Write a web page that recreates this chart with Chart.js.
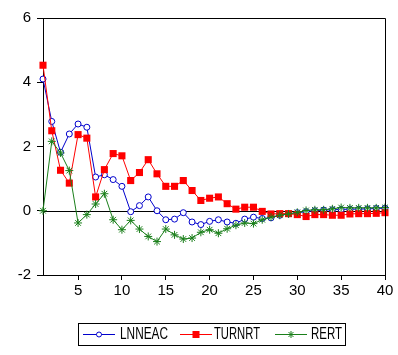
<!DOCTYPE html>
<html><head><meta charset="utf-8">
<script src="https://cdn.jsdelivr.net/npm/chart.js@4"></script>
<style>html,body{margin:0;padding:0;background:#fff}#c{display:block}</style>
</head><body>
<canvas id="c" width="398" height="355"></canvas>
<script>
const lags = [1,2,3,4,5,6,7,8,9,10,11,12,13,14,15,16,17,18,19,20,21,22,23,24,25,26,27,28,29,30,31,32,33,34,35,36,37,38,39,40];
const lnneac = [4.1,2.78,1.82,2.39,2.7,2.6,1.05,1.12,0.97,0.76,-0.03,0.16,0.43,0.0,-0.28,-0.26,-0.06,-0.35,-0.43,-0.33,-0.28,-0.35,-0.39,-0.26,-0.2,-0.24,-0.22,-0.14,-0.1,-0.06,-0.03,0.0,0.02,0.03,0.04,0.05,0.05,0.06,0.07,0.08];
const turnrt = [4.53,2.49,1.26,0.86,2.37,2.26,0.43,1.28,1.78,1.71,0.94,1.19,1.59,1.15,0.76,0.76,0.94,0.63,0.32,0.39,0.43,0.22,0.05,0.11,0.11,-0.02,-0.1,-0.09,-0.09,-0.12,-0.18,-0.12,-0.12,-0.14,-0.14,-0.1,-0.09,-0.09,-0.08,-0.06];
const rert = [0,2.16,1.8,1.25,-0.38,-0.12,0.21,0.53,-0.28,-0.59,-0.3,-0.57,-0.8,-0.96,-0.57,-0.75,-0.88,-0.85,-0.67,-0.59,-0.7,-0.56,-0.45,-0.38,-0.4,-0.28,-0.2,-0.14,-0.1,-0.05,0.01,0.03,0.03,0.06,0.1,0.09,0.09,0.09,0.09,0.1];
const xTicks = [5,10,15,20,25,30,35,40];
const seriesNames = ['LNNEAC','TURNRT','RERT'];

const BLUE = '#0000cc', RED = '#ff0000', GREEN = '#1a7f1a';
const FONT = '"Liberation Sans", Arial, sans-serif';
const toXY = arr => arr.map((v,i)=>({x:lags[i], y:v}));

const framePlugin = {
  id:'frame',
  beforeDatasetsDraw(chart){
    const {ctx, chartArea:a, scales} = chart;
    const y0 = Math.round(scales.y.getPixelForValue(0)) + 0.5;
    ctx.save();
    ctx.strokeStyle = '#000'; ctx.lineWidth = 1;
    ctx.beginPath(); ctx.moveTo(a.left, y0); ctx.lineTo(a.right, y0); ctx.stroke();
    ctx.restore();
  },
  afterDraw(chart){
    const {ctx, chartArea:a} = chart;
    ctx.save();
    ctx.strokeStyle = '#000'; ctx.lineWidth = 1;
    const t = Math.round(a.top)+0.5, r = Math.round(a.right)+0.5;
    ctx.beginPath(); ctx.moveTo(a.left, t); ctx.lineTo(r, t); ctx.lineTo(r, a.bottom); ctx.stroke();
    // legend
    ctx.strokeRect(78.5, 323.5, 267, 22);
    const cy = 334.5;
    const items = [
      {name:seriesNames[0], color:BLUE, x0:83, x1:115, tx:120, tw:48, m:'circle'},
      {name:seriesNames[1], color:RED, x0:180, x1:212, tx:214, tw:46, m:'rect'},
      {name:seriesNames[2], color:GREEN, x0:275, x1:307, tx:311, tw:31, m:'star'}
    ];
    items.forEach(it=>{
      ctx.strokeStyle = it.color; ctx.fillStyle = it.color; ctx.lineWidth = 1;
      ctx.beginPath(); ctx.moveTo(it.x0, cy); ctx.lineTo(it.x1, cy); ctx.stroke();
      const mx = (it.x0+it.x1)/2;
      if (it.m==='circle'){
        ctx.fillStyle='#fff'; ctx.beginPath(); ctx.arc(mx, cy, 2.5, 0, Math.PI*2); ctx.fill(); ctx.stroke();
      } else if (it.m==='rect'){
        ctx.fillRect(mx-3.5, cy-3.5, 7, 7);
      } else {
        ctx.beginPath();
        for (let k=0;k<4;k++){ const ang=k*Math.PI/4; ctx.moveTo(mx-3.5*Math.cos(ang), cy-3.5*Math.sin(ang)); ctx.lineTo(mx+3.5*Math.cos(ang), cy+3.5*Math.sin(ang)); }
        ctx.stroke();
      }
      ctx.fillStyle = '#000';
      ctx.font = '16px ' + FONT;
      ctx.textBaseline = 'middle';
      const w = ctx.measureText(it.name).width;
      ctx.save(); ctx.translate(it.tx, cy); ctx.scale(it.tw/w, 1); ctx.fillText(it.name, 0, 0); ctx.restore();
    });
    ctx.restore();
  }
};

new Chart(document.getElementById('c'), {
  type:'line',
  data:{ datasets:[
    {label:seriesNames[2], data:toXY(rert), borderColor:GREEN, backgroundColor:GREEN, borderWidth:1, pointStyle:'star', pointRadius:4, pointBorderWidth:1, order:1},
    {label:seriesNames[1], data:toXY(turnrt), borderColor:RED, backgroundColor:RED, borderWidth:1, pointStyle:'rect', pointRadius:5, pointBorderWidth:0, order:2},
    {label:seriesNames[0], data:toXY(lnneac), borderColor:BLUE, backgroundColor:'#fff', borderWidth:1, pointStyle:'circle', pointRadius:3, pointBorderWidth:1, order:3}
  ]},
  options:{
    responsive:false, animation:false, devicePixelRatio:1,
    clip:false,
    layout:{padding:{top:18, right:13, left:0, bottom:0}},
    plugins:{legend:{display:false}, tooltip:{enabled:false}},
    elements:{line:{tension:0}},
    scales:{
      x:{type:'linear', min:1, max:40,
        afterBuildTicks:s=>{ s.ticks = xTicks.map(v=>({value:v})); },
        afterFit:s=>{ s.height = 80; },
        ticks:{font:{family:FONT, size:15}, color:'#000', maxRotation:0, autoSkip:false, padding:2},
        grid:{drawOnChartArea:false, tickLength:5, color:'#000'},
        border:{color:'#000', width:1}},
      y:{min:-2, max:6,
        afterFit:s=>{ s.width = 43; },
        ticks:{stepSize:2, font:{family:FONT, size:15}, color:'#000', padding:6},
        grid:{drawOnChartArea:false, tickLength:6, color:'#000'},
        border:{color:'#000', width:1}}
    }
  },
  plugins:[framePlugin]
});
</script>
</body></html>
